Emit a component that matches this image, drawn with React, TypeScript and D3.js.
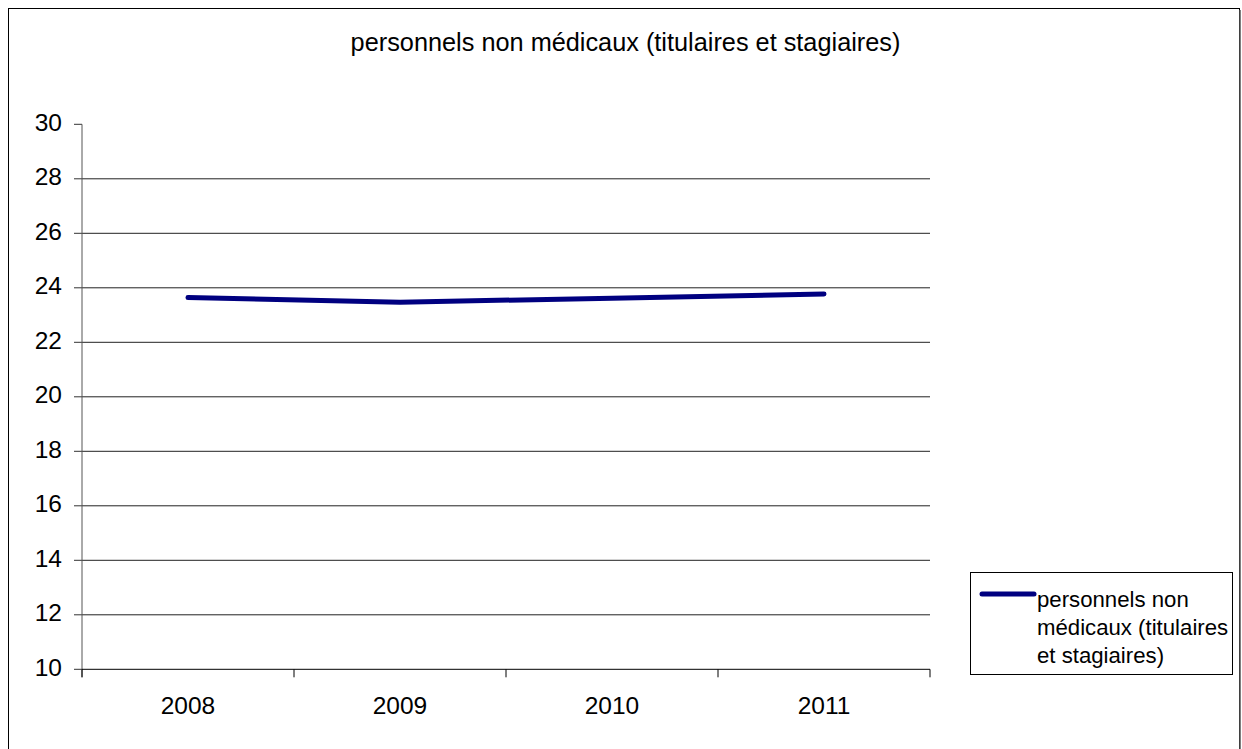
import React from "react";
import * as d3 from "d3";

const title = "personnels non médicaux (titulaires et stagiaires)";
const categories = ["2008", "2009", "2010", "2011"];
const values = [23.64, 23.47, 23.62, 23.77];
const yTicks = [10, 12, 14, 16, 18, 20, 22, 24, 26, 28, 30];
const legendLines = ["personnels non", "médicaux (titulaires", "et stagiaires)"];

export default function App() {
  const W = 1242, H = 749;
  const left = 82, right = 930, top = 124.3, bottom = 669.3;
  const x = d3.scaleBand<string>().domain(categories).range([left, right]);
  const y = d3.scaleLinear().domain([10, 30]).range([bottom, top]);
  const line = d3
    .line<number>()
    .x((_, i) => (x(categories[i]) as number) + x.bandwidth() / 2)
    .y((d) => y(d));
  const font = "'Liberation Sans', Arial, sans-serif";
  const catEdges = [...categories.map((c) => x(c) as number), right];
  return (
    <svg
      width={W}
      height={H}
      style={{ position: "absolute", left: 0, top: 0, background: "#fff" }}
      fontFamily={font}
    >
      <rect x={8.5} y={8.5} width={1231} height={760} fill="#fff" stroke="#000" strokeWidth={1} />
      <line x1={1240} y1={10} x2={1240} y2={H} stroke="#555" strokeWidth={1.5} />
      <text x={625.5} y={51} textAnchor="middle" fontSize={25.3} fill="#000">
        {title}
      </text>
      {yTicks.map((t) => (
        <g key={t}>
          {t !== 10 && t !== 30 && (
            <line x1={left} x2={right} y1={y(t)} y2={y(t)} stroke="#222" strokeWidth={1} />
          )}
          <line x1={left - 8} x2={left} y1={y(t)} y2={y(t)} stroke="#333" strokeWidth={1} />
          <text x={62} y={y(t) + 6.5} textAnchor="end" fontSize={24.5} fill="#000">
            {t}
          </text>
        </g>
      ))}
      <line x1={left} x2={left} y1={top} y2={bottom + 8} stroke="#555" strokeWidth={1} />
      <line x1={left} x2={right} y1={bottom} y2={bottom} stroke="#000" strokeWidth={1} />
      {catEdges.map((e, i) => (
        <line key={i} x1={e} x2={e} y1={bottom} y2={bottom + 8} stroke="#000" strokeWidth={1} />
      ))}
      {categories.map((c) => (
        <text
          key={c}
          x={(x(c) as number) + x.bandwidth() / 2}
          y={714}
          textAnchor="middle"
          fontSize={24.5}
          fill="#000"
        >
          {c}
        </text>
      ))}
      <path d={line(values) || ""} fill="none" stroke="#000080" strokeWidth={5} strokeLinecap="round" strokeLinejoin="round" />
      <rect x={970.5} y={572.5} width={262} height={102} fill="#fff" stroke="#000" strokeWidth={1} />
      <line x1={982} x2={1034} y1={594} y2={594} stroke="#000080" strokeWidth={5} strokeLinecap="round" />
      {legendLines.map((l, i) => (
        <text key={i} x={1037} y={607 + i * 28} fontSize={22.2} fill="#000">
          {l}
        </text>
      ))}
    </svg>
  );
}
